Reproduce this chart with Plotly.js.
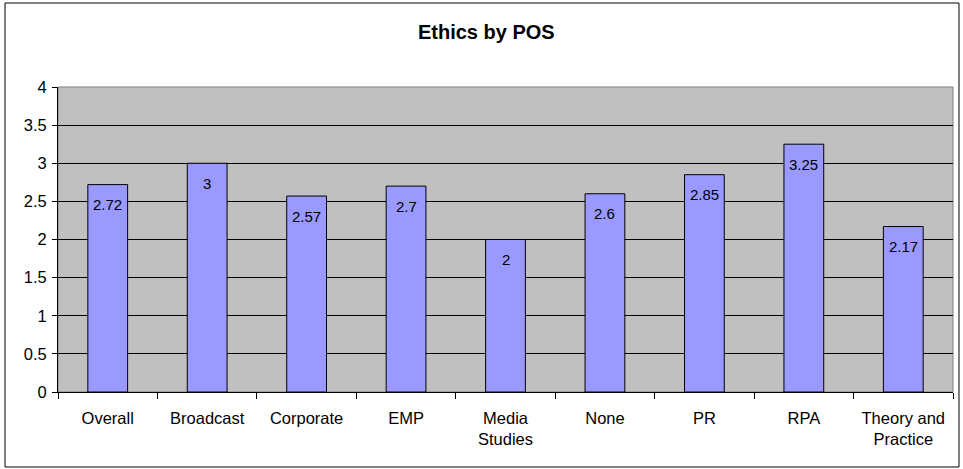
<!DOCTYPE html>
<html>
<head>
<meta charset="utf-8">
<script src="https://cdn.plot.ly/plotly-3.0.1.min.js"></script>
<style>html,body{margin:0;padding:0;background:#fff;}#chart{width:963px;height:469px;}</style>
</head>
<body>
<div id="chart"></div>
<script>
const categories = ["Overall", "Broadcast", "Corporate", "EMP", "Media<br>Studies", "None", "PR", "RPA", "Theory and<br>Practice"];
const values = [2.72, 3, 2.57, 2.7, 2, 2.6, 2.85, 3.25, 2.17];
const valueLabels = ["2.72", "3", "2.57", "2.7", "2", "2.6", "2.85", "3.25", "2.17"];
const yTicks = [0, 0.5, 1, 1.5, 2, 2.5, 3, 3.5, 4];
const yTickText = ["0", "0.5", "1", "1.5", "2", "2.5", "3", "3.5", "4"];

const font = "Arial, 'Liberation Sans', sans-serif";

const trace = {
  type: "bar",
  x: categories,
  y: values,
  marker: {color: "#9999ff", line: {color: "#000000", width: 1}},
  hoverinfo: "none"
};

const annotations = categories.map((c, i) => ({
  x: c, y: values[i], xref: "x", yref: "y",
  text: valueLabels[i], showarrow: false,
  yanchor: "middle", yshift: -20,
  font: {family: font, size: 15, color: "#000"}
}));

const layout = {
  width: 963, height: 469,
  margin: {l: 58, r: 10, t: 87, b: 77},
  paper_bgcolor: "#ffffff",
  plot_bgcolor: "#c0c0c0",
  bargap: 0.6,
  showlegend: false,
  title: {
    text: "<b>Ethics by POS</b>",
    font: {family: font, size: 20, color: "#000"},
    x: 0.505, xanchor: "center", y: 0.932, yanchor: "middle"
  },
  xaxis: {
    type: "category",
    showgrid: false,
    showline: true, linecolor: "#000", linewidth: 1,
    ticks: "outside", tickson: "boundaries", ticklen: 6, tickcolor: "#000",
    ticklabelstandoff: 11,
    tickfont: {family: font, size: 16.5, color: "#000"},
    zeroline: false, fixedrange: true
  },
  yaxis: {
    range: [0, 4],
    tickvals: yTicks, ticktext: yTickText,
    showgrid: true, gridcolor: "#000", gridwidth: 1,
    showline: true, linecolor: "#000", linewidth: 1,
    ticks: "outside", ticklen: 5, tickcolor: "#000",
    ticklabelstandoff: 2,
    tickfont: {family: font, size: 16.5, color: "#000"},
    zeroline: false, fixedrange: true
  },
  annotations: annotations,
  shapes: [
    {type: "rect", xref: "paper", yref: "paper", x0: 0, x1: 1, y0: 0, y1: 1,
     line: {color: "#808080", width: 1}, layer: "below"},
    {type: "rect", xref: "paper", yref: "paper", x0: -0.0592, x1: 1.0067, y0: -0.2459, y1: 1.2754,
     line: {color: "#000", width: 1}, fillcolor: "rgba(0,0,0,0)", layer: "above"}
  ]
};

Plotly.newPlot("chart", [trace], layout, {staticPlot: true});
</script>
</body>
</html>
